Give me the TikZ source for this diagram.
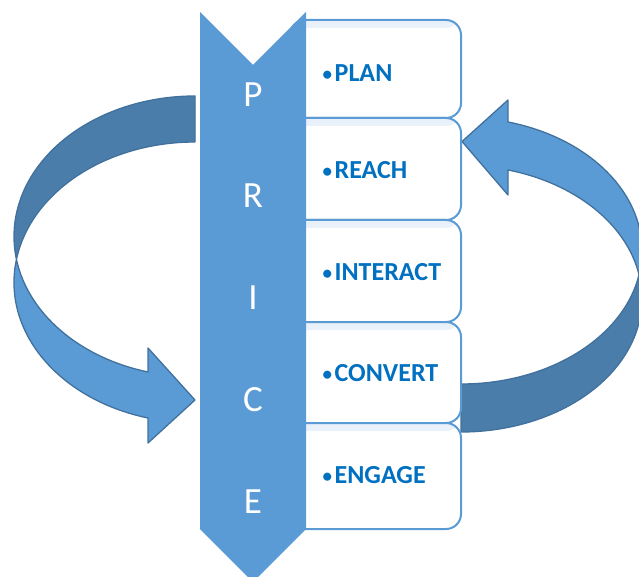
\documentclass[tikz,border=0pt]{standalone}
\usepackage{fontspec}
\setmainfont{Carlito}
\definecolor{accent}{HTML}{5B9BD5}
\definecolor{accentdark}{HTML}{4A7DAA}
\definecolor{edge}{HTML}{41719C}
\definecolor{labeltext}{HTML}{0070C0}
\definecolor{boxglow}{HTML}{E8F0FA}
\newcommand{\bul}{{\fontsize{19}{20}\selectfont\raisebox{0.8pt}{•}}\hspace{2.5pt}}
\begin{document}
\begin{tikzpicture}[x=1pt,y=1pt,
  stagebox/.style={draw=accent, line width=2pt, fill=white, rounded corners=15pt,
    minimum width=171pt, inner sep=0pt,
    path picture={\shade[top color=boxglow, bottom color=white]
      (path picture bounding box.north west) rectangle
      ([yshift=-8pt]path picture bounding box.north east);}},
  steplabel/.style={anchor=west, inner sep=0pt, text=labeltext,
    font=\fontsize{26}{30}\selectfont\bfseries},
  letter/.style={inner sep=0pt, text=white, font=\fontsize{37}{44}\selectfont},
  bandfront/.style={fill=accent, draw=edge, line width=1.3pt, line join=round},
  bandback/.style={fill=accentdark, draw=edge, line width=1.3pt, line join=round}]
\useasboundingbox (0,0) rectangle (639,576);
\clip (0,0) rectangle (639,576);

% left curved arrow: back band on top, head pointing right at the bottom
\path[bandback] (195,480)
  arc[start angle=90, end angle=189.43, x radius=181, y radius=140.4]
  arc[start angle=170.57, end angle=90, x radius=181, y radius=140.4] -- cycle;
\path[bandfront] (16.45,316.6)
  arc[start angle=189.43, end angle=254.95, x radius=181, y radius=140.4]
  -- (148,228) -- (195,176) -- (148,133) -- (148,158)
  arc[start angle=254.95, end angle=170.57, x radius=181, y radius=140.4] -- cycle;

% right curved arrow: back band at the bottom, head pointing left at the top
\path[bandback] (461,144)
  arc[start angle=270, end angle=370.372, x radius=181, y radius=133.3]
  arc[start angle=349.628, end angle=270, x radius=181, y radius=133.3] -- cycle;
\path[bandfront] (639.04,301.3)
  arc[start angle=10.372, end angle=74.95, x radius=181, y radius=133.3]
  -- (508,381) -- (462,434.5) -- (508,476) -- (508,454.03)
  arc[start angle=74.95, end angle=-10.372, x radius=181, y radius=133.3] -- cycle;

% stacked stage boxes
\node[stagebox, minimum height=98pt]  (b1) at (375.5,507) {};
\node[stagebox, minimum height=102pt] (b2) at (375.5,407) {};
\node[stagebox, minimum height=102pt] (b3) at (375.5,305) {};
\node[stagebox, minimum height=101pt] (b4) at (375.5,203.5) {};
\node[stagebox, minimum height=106pt] (b5) at (375.5,100) {};

\node[steplabel] (lplan)     at (322.5,503) {\bul PLAN};
\node[steplabel] (lreach)    at (322.5,406) {\bul REACH};
\node[steplabel] (linteract) at (322.5,304) {\bul INTERACT};
\node[steplabel] (lconvert)  at (322.5,203) {\bul CONVERT};
\node[steplabel] (lengage)   at (322.5,101) {\bul ENGAGE};

% vertical chevron
\fill[accent] (200,564) -- (253,511) -- (306,564) -- (306,47) -- (253,-6) -- (200,47) -- cycle;
\node[letter] (lp) at (253,481.5) {P};
\node[letter] (lr) at (253,380) {R};
\node[letter] (li) at (253,278) {I};
\node[letter] (lc) at (253,176) {C};
\node[letter] (le) at (253,74.5) {E};
\end{tikzpicture}
\end{document}
